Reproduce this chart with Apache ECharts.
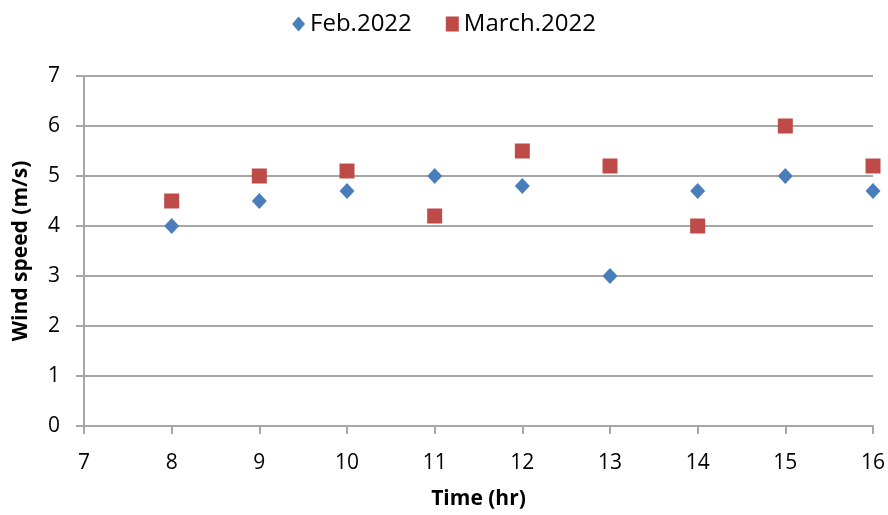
<!DOCTYPE html>
<html><head><meta charset="utf-8">
<script src="https://cdn.jsdelivr.net/npm/echarts@6/dist/echarts.min.js"></script>
<style>html,body{margin:0;padding:0;background:#fff}#c{width:888px;height:515px}</style>
</head><body><div id="c"></div>
<script>
const hours = [8, 9, 10, 11, 12, 13, 14, 15, 16];
const feb2022 = [4, 4.5, 4.7, 5, 4.8, 3, 4.7, 5, 4.7];
const march2022 = [4.5, 5, 5.1, 4.2, 5.5, 5.2, 4, 6, 5.2];
const seriesNames = ['Feb.2022', 'March.2022'];
const xTitle = 'Time (hr)';
const yTitle = 'Wind speed (m/s)';

const FONT = 'Open Sans';
const chart = echarts.init(document.getElementById('c'), null, {renderer: 'canvas'});
const gray = '#a6a6a6';
chart.setOption({
  animation: false,
  textStyle: {fontFamily: FONT},
  legend: {
    top: 7, left: 'center',
    itemWidth: 13, itemHeight: 15, itemGap: 34,
    textStyle: {fontSize: 24, color: '#000', fontFamily: FONT},
    data: [{name: seriesNames[0], icon: 'diamond'}, {name: seriesNames[1], icon: 'rect'}]
  },
  grid: {left: 84, right: 15, top: 76, bottom: 89, containLabel: false, outerBoundsMode: 'none'},
  xAxis: {
    type: 'value', min: 7, max: 16, interval: 1,
    name: xTitle, nameLocation: 'middle', nameGap: 63,
    nameTextStyle: {fontSize: 21, fontWeight: 'bold', color: '#000', fontFamily: FONT},
    axisLine: {lineStyle: {color: gray, width: 2}},
    axisTick: {show: true, inside: false, length: 8, lineStyle: {color: gray, width: 2}},
    axisLabel: {fontSize: 21, color: '#000', margin: 27, fontFamily: FONT},
    splitLine: {show: false}
  },
  yAxis: {
    type: 'value', min: 0, max: 7, interval: 1,
    name: yTitle, nameLocation: 'middle', nameGap: 52,
    nameTextStyle: {fontSize: 21, fontWeight: 'bold', color: '#000', fontFamily: FONT},
    axisLine: {show: true, lineStyle: {color: gray, width: 2}},
    axisTick: {show: true, inside: false, length: 8, lineStyle: {color: gray, width: 2}},
    axisLabel: {fontSize: 21, color: '#000', margin: 24, fontFamily: FONT},
    splitLine: {show: true, lineStyle: {color: gray, width: 2}}
  },
  series: [
    {name: seriesNames[0], type: 'scatter', symbol: 'diamond', symbolSize: [15, 16],
     itemStyle: {color: '#4a7ebb', opacity: 1}, data: hours.map((h, i) => [h, feb2022[i]])},
    {name: seriesNames[1], type: 'scatter', symbol: 'rect', symbolSize: 15,
     itemStyle: {color: '#be4b48', opacity: 1}, data: hours.map((h, i) => [h, march2022[i]])}
  ]
});
</script></body></html>
